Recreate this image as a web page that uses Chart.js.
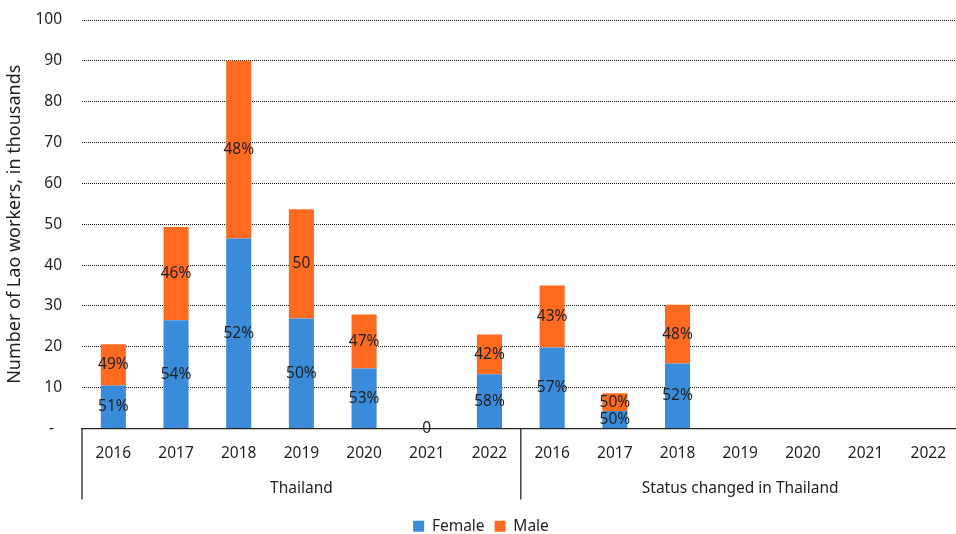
<!DOCTYPE html>
<html>
<head>
<meta charset="utf-8">
<title>Lao workers in Thailand by sex</title>
<script src="https://cdn.jsdelivr.net/npm/chart.js@4/dist/chart.umd.min.js"></script>
<style>
  html, body { margin: 0; padding: 0; background: #ffffff; overflow: hidden; }
  #wrap { width: 962px; height: 544px; }
</style>
</head>
<body>
<div id="wrap"><canvas id="chart" width="962" height="544"></canvas></div>
<script>
// Categories: years, nested in two groups
const years = ['2016', '2017', '2018', '2019', '2020', '2021', '2022',
               '2016', '2017', '2018', '2019', '2020', '2021', '2022'];
const groupNames = ['Thailand', 'Status changed in Thailand'];
const groupSizes = [7, 7];

// Workers, in thousands
const female = [10.5, 26.5, 46.5, 26.9, 14.7, 0, 13.3, 19.8, 4.3, 15.9, null, null, null, null];
const male   = [10.1, 22.8, 43.5, 26.8, 13.2, null, 9.7, 15.2, 4.3, 14.4, null, null, null, null];

// Share labels printed inside each segment
const femaleLabels = ['51%', '54%', '52%', '50%', '53%', '0', '58%', '57%', '50%', '52%', '', '', '', ''];
const maleLabels   = ['49%', '46%', '48%', '50', '47%', '', '42%', '43%', '50%', '48%', '', '', '', ''];

// Value axis ticks
const yTicks = [0, 10, 20, 30, 40, 50, 60, 70, 80, 90, 100];

const FONT = '"Noto Sans", "Open Sans", sans-serif';
const TEXT = '#1f1f1f';
const AXIS = '#262626';

const segmentLabels = {
  id: 'segmentLabels',
  afterDatasetsDraw(chart) {
    const ctx = chart.ctx;
    ctx.save();
    ctx.font = '15.5px ' + FONT;
    ctx.fillStyle = TEXT;
    ctx.textAlign = 'center';
    ctx.textBaseline = 'middle';
    chart.data.datasets.forEach((ds, di) => {
      const meta = chart.getDatasetMeta(di);
      meta.data.forEach((bar, i) => {
        const t = ds.segmentText[i];
        if (!t) return;
        const p = bar.getProps(['x', 'y', 'base'], true);
        ctx.fillText(t, p.x, (p.y + p.base) / 2);
      });
    });
    ctx.restore();
  }
};

const groupAxis = {
  id: 'groupAxis',
  afterDraw(chart) {
    const xs = chart.scales.x;
    const ctx = chart.ctx;
    const per = xs.width / years.length;
    const top = xs.top;
    ctx.save();
    ctx.strokeStyle = AXIS;
    ctx.lineWidth = 1.3;
    ctx.fillStyle = TEXT;
    ctx.font = '15.5px ' + FONT;
    ctx.textAlign = 'center';
    ctx.textBaseline = 'middle';
    let start = 0;
    groupNames.forEach((name, gi) => {
      const left = xs.left + start * per;
      const right = left + groupSizes[gi] * per;
      ctx.beginPath();
      ctx.moveTo(left, top);
      ctx.lineTo(left, top + 71);
      ctx.stroke();
      ctx.fillText(name, (left + right) / 2, top + 60);
      start += groupSizes[gi];
    });
    ctx.beginPath();
    ctx.moveTo(xs.right, top);
    ctx.lineTo(xs.right, top + 71);
    ctx.stroke();
    ctx.restore();
  }
};

new Chart(document.getElementById('chart'), {
  type: 'bar',
  data: {
    labels: years,
    datasets: [
      {
        label: 'Female',
        data: female,
        segmentText: femaleLabels,
        backgroundColor: '#3b8bdb',
        borderWidth: 0,
        barPercentage: 0.4,
        categoryPercentage: 1.0
      },
      {
        label: 'Male',
        data: male,
        segmentText: maleLabels,
        backgroundColor: '#ff6a21',
        borderWidth: 0,
        barPercentage: 0.4,
        categoryPercentage: 1.0
      }
    ]
  },
  options: {
    responsive: false,
    animation: false,
    layout: { padding: { top: 20, left: 0, right: 0, bottom: 0 } },
    plugins: {
      legend: {
        position: 'bottom',
        labels: {
          boxWidth: 11,
          boxHeight: 11,
          padding: 10,
          color: TEXT,
          font: { family: FONT, size: 15.5 }
        }
      },
      tooltip: { enabled: false }
    },
    scales: {
      x: {
        stacked: true,
        grid: { display: false, drawTicks: false },
        border: { display: true, color: AXIS, width: 1.3 },
        ticks: {
          padding: 16,
          color: TEXT,
          maxRotation: 0,
          autoSkip: false,
          font: { family: FONT, size: 15.5 }
        },
        afterFit(s) { s.height = 80; }
      },
      y: {
        stacked: true,
        min: 0,
        max: 100,
        afterBuildTicks(s) { s.ticks = yTicks.map(v => ({ value: v })); },
        grid: { color: '#111111', lineWidth: 1, drawTicks: false },
        border: { display: false, dash: [1, 1] },
        ticks: {
          padding: 20,
          color: TEXT,
          font: { family: FONT, size: 15.5 },
          callback: v => (v === 0 ? '-  ' : String(v))
        },
        title: {
          display: true,
          text: 'Number of Lao workers, in thousands',
          color: TEXT,
          font: { family: FONT, size: 18 },
          padding: { top: 4, bottom: 0 }
        },
        afterFit(s) {
          s.width = 82;
          s.paddingTop = 0;
          s.paddingBottom = 0;
        }
      }
    }
  },
  plugins: [segmentLabels, groupAxis]
});
</script>
</body>
</html>
